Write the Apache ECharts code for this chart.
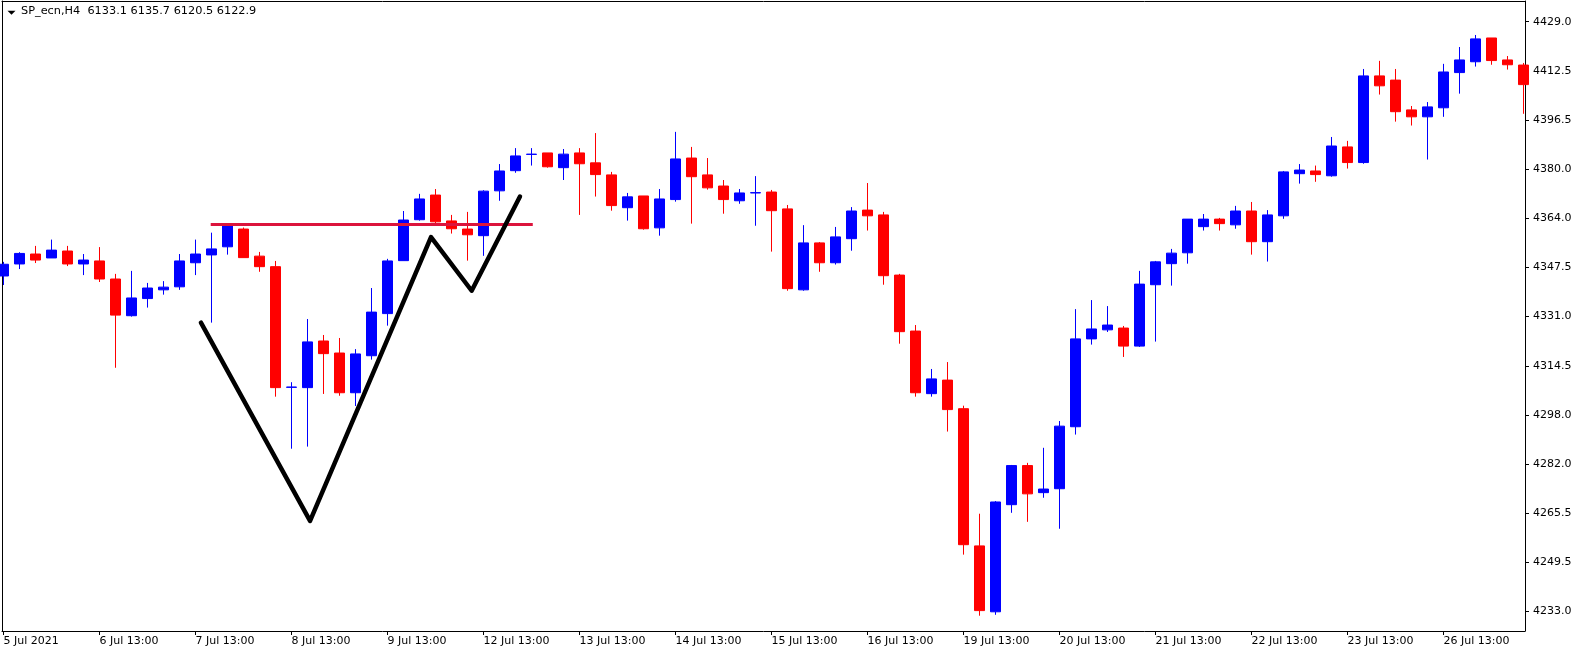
<!DOCTYPE html>
<html>
<head>
<meta charset="utf-8">
<script src="https://cdn.jsdelivr.net/npm/echarts@6/dist/echarts.min.js"></script>
<style>
html,body{margin:0;padding:0;background:#ffffff;}
#chart{width:1583px;height:655px;}
</style>
</head>
<body>
<div id="chart"></div>
<script>
// H4 candles, index 0 = first visible bar
const opens = [4344.5,4348.5,4351.8,4350.5,4352.8,4348.5,4349.5,4343.5,4331.3,4337.0,
  4339.9,4340.9,4348.9,4351.5,4354.2,4360.1,4351.1,4347.6,4307.5,4307.4,
  4322.9,4318.9,4305.7,4318.0,4332.0,4349.6,4363.2,4371.4,4362.8,4360.1,
  4357.9,4372.8,4379.5,4384.9,4385.4,4380.5,4385.4,4382.1,4378.1,4367.2,
  4371.1,4360.5,4369.9,4383.7,4378.1,4374.4,4369.5,4372.1,4372.4,4366.8,
  4339.9,4355.5,4348.9,4356.9,4366.4,4364.8,4344.8,4326.2,4305.4,4309.9,
  4300.4,4254.8,4232.9,4268.5,4281.5,4272.5,4273.8,4294.4,4323.6,4326.6,
  4327.2,4321.2,4341.6,4348.6,4352.2,4360.9,4363.4,4361.5,4366.1,4355.9,
  4364.5,4378.5,4379.4,4377.8,4387.4,4382.2,4411.0,4409.6,4399.7,4397.4,
  4400.4,4412.1,4415.7,4423.6,4416.3,4414.6];
const closes = [4348.4,4352.0,4349.8,4353.1,4348.5,4349.8,4343.5,4331.5,4337.2,4340.5,
  4340.8,4349.5,4351.8,4353.5,4361.2,4350.6,4347.6,4307.4,4307.6,4322.6,
  4318.7,4305.7,4318.6,4332.5,4349.5,4363.1,4370.1,4362.5,4360.2,4358.2,
  4372.7,4379.4,4384.4,4385.0,4380.8,4385.0,4381.8,4378.2,4367.9,4370.8,
  4360.2,4370.1,4383.4,4377.5,4373.8,4369.9,4372.1,4372.2,4366.2,4340.3,
  4355.5,4348.9,4357.5,4366.1,4364.5,4344.6,4326.0,4305.7,4310.3,4300.1,
  4255.2,4233.3,4269.4,4281.5,4272.1,4273.7,4294.6,4323.6,4326.9,4328.2,
  4321.2,4341.8,4349.2,4352.1,4363.4,4363.4,4361.9,4366.1,4355.9,4364.8,
  4379.1,4379.7,4378.2,4387.7,4382.2,4411.0,4407.7,4399.1,4397.4,4400.7,
  4412.3,4416.3,4423.3,4416.1,4414.7,4408.1];
const lows = [4341.5,4346.8,4348.8,4350.5,4347.8,4344.8,4342.5,4314.0,4331.0,4334.0,
  4338.3,4339.9,4344.8,4329.0,4351.6,4350.6,4345.9,4304.4,4287.1,4287.8,
  4305.3,4304.7,4301.3,4316.7,4328.0,4349.6,4362.9,4361.8,4358.6,4349.6,
  4351.2,4369.5,4378.8,4381.2,4380.5,4376.4,4364.8,4370.9,4366.2,4362.9,
  4359.9,4357.9,4369.2,4361.9,4373.2,4365.2,4368.5,4361.2,4352.6,4339.6,
  4339.6,4345.9,4348.3,4352.9,4359.6,4341.6,4322.0,4304.4,4304.4,4292.8,
  4251.9,4231.6,4231.9,4265.8,4262.8,4270.8,4260.5,4291.8,4321.7,4325.9,
  4317.6,4320.9,4322.7,4341.3,4348.6,4359.6,4359.6,4360.2,4351.6,4349.3,
  4363.5,4375.2,4375.8,4377.5,4380.2,4381.8,4404.8,4395.8,4394.5,4383.2,
  4397.4,4405.1,4414.1,4414.7,4413.1,4398.4];
const highs = [4349.2,4352.4,4354.5,4356.6,4354.5,4351.8,4354.1,4345.2,4346.2,4342.2,
  4342.8,4351.8,4356.6,4358.9,4361.8,4360.6,4352.5,4349.5,4309.2,4330.2,
  4324.9,4323.9,4320.2,4340.5,4350.2,4366.1,4371.8,4373.4,4364.8,4365.8,
  4373.0,4381.7,4387.0,4387.0,4385.4,4386.7,4387.0,4392.0,4379.1,4372.1,
  4371.1,4373.4,4392.4,4387.4,4383.7,4376.4,4373.4,4377.7,4373.1,4368.1,
  4361.4,4355.8,4360.8,4367.4,4375.4,4365.8,4345.2,4328.2,4313.6,4315.9,
  4301.4,4265.5,4269.7,4281.7,4282.4,4287.4,4296.3,4333.5,4336.5,4334.5,
  4327.9,4346.2,4349.5,4353.5,4363.4,4365.1,4363.8,4367.8,4369.1,4366.4,
  4379.4,4381.7,4381.2,4390.7,4389.4,4413.3,4416.0,4413.3,4401.0,4402.3,
  4415.0,4420.6,4424.6,4423.6,4417.6,4415.3];

// time axis labels (one every 6 bars)
const dateTickIdx = [0,6,12,18,24,30,36,42,48,54,60,66,72,78,84,90];
const dateLabels = ['5 Jul 2021','6 Jul 13:00','7 Jul 13:00','8 Jul 13:00','9 Jul 13:00',
  '12 Jul 13:00','13 Jul 13:00','14 Jul 13:00','15 Jul 13:00','16 Jul 13:00',
  '19 Jul 13:00','20 Jul 13:00','21 Jul 13:00','22 Jul 13:00','23 Jul 13:00','26 Jul 13:00'];

// price axis ticks and their labels
const priceTicks = [4233.0,4249.333,4265.667,4282.0,4298.333,4314.667,4331.0,
  4347.333,4363.667,4380.0,4396.333,4412.667,4429.0];
const priceLabels = ['4233.0','4249.5','4265.5','4282.0','4298.0','4314.5','4331.0',
  '4347.5','4364.0','4380.0','4396.5','4412.5','4429.0'];

// drawn objects: [bar index, price]
const zigzag = [[12.34,4329.0],[19.16,4263.1],[26.72,4357.4],[29.26,4339.6],[32.28,4370.9]];
const resistance = [[12.95,4361.6],[33.08,4361.6]];

const headerText = 'SP_ecn,H4  6133.1 6135.7 6120.5 6122.9';

const candleData = opens.map((o, i) => [i, o, closes[i], lows[i], highs[i]]);

const FONT = 'DejaVu Sans';
const X_MIN = -0.09375, X_MAX = 95.09375;
const Y_MIN = 4226.52, Y_MAX = 4435.89;
const chart = echarts.init(document.getElementById('chart'), null, {renderer: 'canvas'});
chart.setOption({
  animation: false,
  backgroundColor: '#ffffff',
  title: {
    text: headerText, left: 21, top: 6, padding: 0,
    textStyle: {fontFamily: FONT, fontSize: 11.3, fontWeight: 'normal', color: '#000'}
  },
  graphic: [{
    type: 'polygon',
    shape: {points: [[7.5, 10.7], [15.5, 10.7], [11.5, 14.8]]},
    style: {fill: '#000'}
  }],
  grid: {left: 2, right: 58, top: 1, bottom: 24, containLabel: false, outerBoundsMode: 'none'},
  xAxis: [{
    type: 'value', min: X_MIN, max: X_MAX, position: 'bottom',
    axisLine: {show: true, onZero: false, lineStyle: {color: '#000', width: 1}},
    axisTick: {show: true, length: 4, customValues: dateTickIdx, lineStyle: {color: '#000'}},
    axisLabel: {
      customValues: dateTickIdx, align: 'left', margin: 5,
      fontFamily: FONT, fontSize: 11, color: '#000',
      formatter: v => dateLabels[Math.round(v / 6)] || ''
    },
    splitLine: {show: false}
  }, {
    type: 'value', min: X_MIN, max: X_MAX, position: 'top',
    axisLine: {show: true, onZero: false, lineStyle: {color: '#000', width: 1}},
    axisTick: {show: false}, axisLabel: {show: false}, splitLine: {show: false}
  }],
  yAxis: [{
    type: 'value', position: 'right', min: Y_MIN, max: Y_MAX, scale: true,
    axisLine: {show: true, onZero: false, lineStyle: {color: '#000', width: 1}},
    axisTick: {show: true, length: 4, customValues: priceTicks, lineStyle: {color: '#000'}},
    axisLabel: {
      customValues: priceTicks, margin: 8,
      fontFamily: FONT, fontSize: 11, color: '#000',
      formatter: v => priceLabels[Math.round((v - priceTicks[0]) / ((priceTicks[12] - priceTicks[0]) / 12))] || ''
    },
    splitLine: {show: false}
  }, {
    type: 'value', position: 'left', min: Y_MIN, max: Y_MAX, scale: true,
    axisLine: {show: true, onZero: false, lineStyle: {color: '#000', width: 1}},
    axisTick: {show: false}, axisLabel: {show: false}, splitLine: {show: false}
  }],
  series: [{
    type: 'candlestick',
    data: candleData,
    barWidth: 10,
    xAxisIndex: 0,
    yAxisIndex: 0,
    clip: true,
    itemStyle: {
      color: '#0000ff', color0: '#ff0000',
      borderColor: '#0000ff', borderColor0: '#ff0000', borderWidth: 1
    },
    z: 2
  }, {
    type: 'line',
    data: resistance,
    xAxisIndex: 0,
    yAxisIndex: 0,
    symbol: 'none',
    lineStyle: {color: '#dc143c', width: 3},
    z: 3
  }, {
    type: 'line',
    data: zigzag,
    xAxisIndex: 0,
    yAxisIndex: 0,
    symbol: 'none',
    lineStyle: {color: '#000000', width: 4.5, cap: 'round', join: 'round'},
    z: 4
  }]
});
</script>
</body>
</html>
